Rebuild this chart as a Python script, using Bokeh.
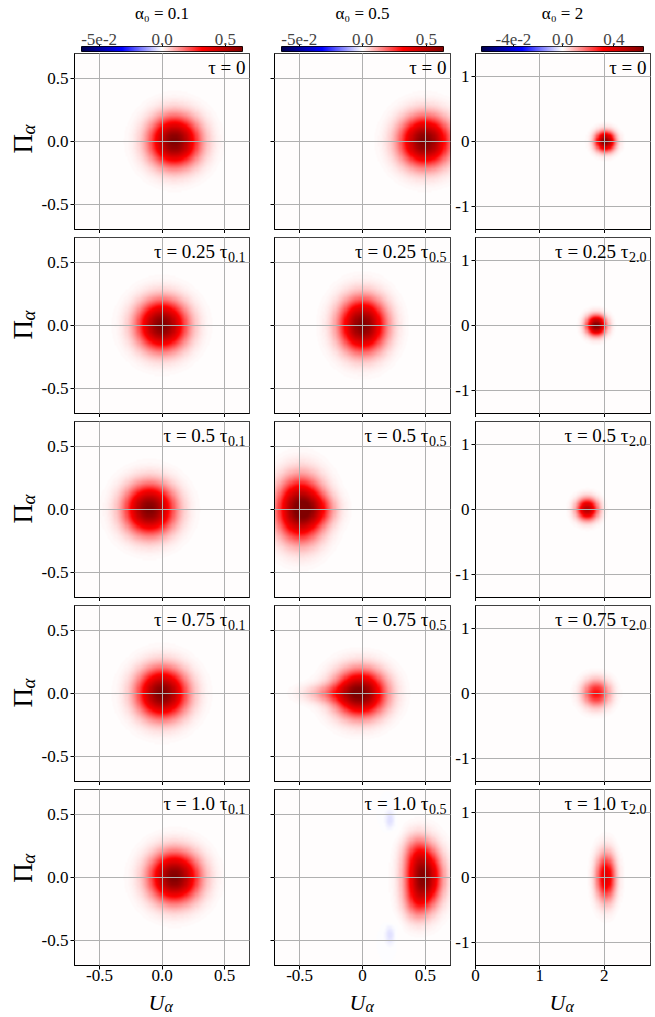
import numpy as np
from bokeh.plotting import figure
from bokeh.models import Range1d, LinearColorMapper, FixedTicker, CustomJSTickFormatter, Label
from bokeh.layouts import column, row
from bokeh.embed import file_html
from bokeh.resources import INLINE

# ---------------- data ----------------
col_titles = ["α₀ = 0.1", "α₀ = 0.5", "α₀ = 2"]
tau_main = ["τ = 0", "τ = 0.25 τ", "τ = 0.5 τ", "τ = 0.75 τ", "τ = 1.0 τ"]
tau_sub = ["0.1", "0.5", "2.0"]

norm_vmin = [-0.064, -0.064, -0.066]
norm_vmax = [0.634, 0.634, 0.630]
cbar_ticks = [[-0.05, 0.0, 0.5], [-0.05, 0.0, 0.5], [-0.04, 0.0, 0.4]]
cbar_labels = [["-5e-2", "0.0", "0.5"], ["-5e-2", "0.0", "0.5"], ["-4e-2", "0.0", "0.4"]]

x_ranges = [(-0.7, 0.7), (-0.7, 0.7), (0.0, 2.72)]
y_ranges = [(-0.7, 0.7), (-0.7, 0.7), (-1.36, 1.36)]
x_ticks = [[-0.5, 0.0, 0.5], [-0.5, 0.0, 0.5], [0.0, 1.0, 2.0]]
x_tick_labels = [["-0.5", "0.0", "0.5"], ["-0.5", "0", "0.5"], ["0", "1", "2"]]
y_ticks = [[-0.5, 0.0, 0.5], [-0.5, 0.0, 0.5], [-1.0, 0.0, 1.0]]
y_tick_labels = [["-0.5", "0.0", "0.5"], None, ["-1", "0", "1"]]

# Wigner-function blobs: panel row, panel column,
# centre (U, Pi), widths (U, Pi) and peak value
blob_row = [0, 1, 2, 3, 4,
            0, 1, 2, 2, 3, 3, 4, 4, 4, 4, 4, 4, 4,
            0, 1, 2, 3, 4]
blob_col = [0, 0, 0, 0, 0,
            1, 1, 1, 1, 1, 1, 1, 1, 1, 1, 1, 1, 1,
            2, 2, 2, 2, 2]
blob_u = [0.10, 0.00, -0.10, 0.00, 0.10,
          0.50, 0.00, -0.50, -0.36, -0.02, -0.25, 0.49, 0.43, 0.43, 0.22, 0.29, 0.22, 0.29,
          2.02, 1.88, 1.74, 1.88, 2.03]
blob_pi = [0.0, 0.0, 0.0, 0.0, 0.0,
           0.0, 0.0, 0.0, 0.0, 0.0, 0.0, 0.0, 0.20, -0.20, 0.46, 0.36, -0.46, -0.36,
           0.0, 0.0, 0.0, 0.0, 0.0]
blob_su = [0.13, 0.13, 0.13, 0.13, 0.13,
           0.13, 0.12, 0.12, 0.10, 0.13, 0.14, 0.09, 0.07, 0.07, 0.025, 0.025, 0.025, 0.025,
           0.10, 0.10, 0.11, 0.14, 0.10]
blob_spi = [0.13, 0.13, 0.13, 0.13, 0.13,
            0.13, 0.14, 0.16, 0.08, 0.12, 0.05, 0.15, 0.10, 0.10, 0.05, 0.05, 0.05, 0.05,
            0.10, 0.10, 0.11, 0.14, 0.24]
blob_amp = [0.63, 0.63, 0.63, 0.63, 0.63,
            0.63, 0.63, 0.63, 0.15, 0.63, 0.12, 0.60, 0.12, 0.12, -0.004, -0.004, -0.004, -0.004,
            0.63, 0.63, 0.50, 0.30, 0.40]

# ---------------- style / layout ----------------
FONT = "Liberation Serif"
LAB_W = 38                      # width of the y-label strip
col_w = [224, 190, 201]          # panel figure widths
col_bl = [35, 12, 22]
col_br = [13, 2, 3]
top_w = [LAB_W + 224, 190, 201]  # widths of title / colour-bar / x-label figures
cb_bl = [81, 19, 29]
cb_br = [20, 9, 10]
row_bt = [0, 4, 4, 4, 4]
row_bb = [4, 4, 4, 4, 24]
FRAME = 176
TITLE_H = 23
CB_H = 30
XLAB_H = 27
TICK_FS = "17px"


def seismic(n=256):
    pos = [0.0, 0.25, 0.5, 0.75, 1.0]
    r = [0.0, 0.0, 1.0, 1.0, 0.5]
    g = [0.0, 0.0, 1.0, 0.0, 0.0]
    b = [0.3, 1.0, 1.0, 0.0, 0.0]
    t = np.linspace(0, 1, n)
    R, G, B = (np.interp(t, pos, ch) for ch in (r, g, b))
    return ["#%02x%02x%02x" % (int(round(a * 255)), int(round(bb * 255)), int(round(c * 255)))
            for a, bb, c in zip(R, G, B)]


palette = seismic()
mapper = LinearColorMapper(palette=palette, low=0.0, high=1.0)


def norm(v, vmin, vmax):
    v = np.asarray(v, dtype=float)
    out = np.where(v < 0, 0.5 * (v - vmin) / (0 - vmin), 0.5 + 0.5 * v / vmax)
    return np.clip(out, 0, 1)


def label_formatter(labels):
    return CustomJSTickFormatter(args=dict(labels=labels), code="return labels[index];")


def style_axis(ax, ticks, labels, standoff):
    ax.ticker = FixedTicker(ticks=ticks, minor_ticks=[])
    ax.major_tick_out = 4
    ax.major_tick_in = 0
    ax.minor_tick_out = 0
    ax.minor_tick_in = 0
    ax.axis_line_color = "black"
    ax.major_tick_line_color = "black"
    ax.major_label_text_font = FONT
    ax.major_label_text_color = "black"
    if labels is None:
        ax.formatter = CustomJSTickFormatter(code="return '';")
        ax.major_label_text_font_size = "0px"
        ax.major_label_standoff = 0
    else:
        ax.formatter = label_formatter(labels)
        ax.major_label_text_font_size = TICK_FS
        ax.major_label_standoff = standoff


def text_fig(w, h):
    f = figure(width=w, height=h, x_range=Range1d(0, w), y_range=Range1d(0, h),
               x_axis_location=None, y_axis_location=None, toolbar_location=None,
               tools="", output_backend="svg", min_border=0)
    f.grid.visible = False
    f.outline_line_color = None
    return f


# ---------------- column titles ----------------
title_figs = []
for c in range(3):
    f = text_fig(top_w[c], TITLE_H)
    xc = cb_bl[c] + 0.5 * (top_w[c] - cb_bl[c] - cb_br[c])
    f.add_layout(Label(x=xc, y=9.6, text=col_titles[c], text_align="center",
                       text_baseline="alphabetic", text_font=FONT,
                       text_font_size="17px", text_color="black"))
    title_figs.append(f)

# ---------------- colour bars ----------------
cb_figs = []
for c in range(3):
    f = figure(width=top_w[c], height=CB_H, x_range=Range1d(0, 1), y_range=Range1d(0, 1),
               x_axis_location="above", y_axis_location=None, toolbar_location=None,
               tools="", output_backend="svg", min_border=0,
               min_border_left=cb_bl[c], min_border_right=cb_br[c],
               min_border_top=CB_H - 7, min_border_bottom=2)
    grad = np.linspace(0, 1, 256).reshape(1, 256)
    f.image(image=[grad], x=0, y=0, dw=1, dh=1, color_mapper=mapper)
    ax = f.xaxis[0]
    ax.ticker = FixedTicker(ticks=[float(norm(t, norm_vmin[c], norm_vmax[c])) for t in cbar_ticks[c]],
                            minor_ticks=[])
    ax.formatter = label_formatter(cbar_labels[c])
    ax.major_tick_out = 2
    ax.major_tick_in = 0
    ax.minor_tick_out = 0
    ax.axis_line_color = None
    ax.major_label_standoff = 0
    ax.major_label_text_font = FONT
    ax.major_label_text_font_size = TICK_FS
    f.grid.visible = False
    f.outline_line_color = "black"
    f.outline_line_width = 1
    cb_figs.append(f)

rows = [row(*title_figs, spacing=0), row(*cb_figs, spacing=0)]

# ---------------- panels ----------------
NPIX = 160
for r in range(5):
    h = row_bt[r] + FRAME + row_bb[r]
    # y-label strip
    lf = text_fig(LAB_W, h)
    yc = h - (row_bt[r] + FRAME / 2)
    lf.add_layout(Label(x=22.9, y=yc, text="Π", angle=np.pi / 2, text_align="left",
                        text_baseline="alphabetic", y_offset=-14,
                        text_font=FONT, text_font_size="27px", text_color="black"))
    lf.add_layout(Label(x=27.8, y=yc, text="α", angle=np.pi / 2, text_align="left",
                        text_baseline="alphabetic", y_offset=5,
                        text_font=FONT, text_font_size="19px", text_color="black",
                        text_font_style="italic"))
    figs = [lf]
    for c in range(3):
        x0, x1 = x_ranges[c]
        y0, y1 = y_ranges[c]
        p = figure(width=col_w[c], height=h, x_range=Range1d(x0, x1), y_range=Range1d(y0, y1),
                   toolbar_location=None, tools="", output_backend="svg", min_border=0,
                   min_border_left=col_bl[c], min_border_right=col_br[c],
                   min_border_top=row_bt[r], min_border_bottom=row_bb[r])
        xs = np.linspace(x0, x1, NPIX)
        ys = np.linspace(y0, y1, NPIX)
        X, Y = np.meshgrid(xs, ys)
        field = np.zeros_like(X)
        for k in range(len(blob_row)):
            if blob_row[k] == r and blob_col[k] == c:
                field += blob_amp[k] * np.exp(-((X - blob_u[k]) ** 2) / (2 * blob_su[k] ** 2)
                                              - ((Y - blob_pi[k]) ** 2) / (2 * blob_spi[k] ** 2))
        p.image(image=[norm(field, norm_vmin[c], norm_vmax[c])], x=x0, y=y0,
                dw=x1 - x0, dh=y1 - y0, color_mapper=mapper)

        style_axis(p.xaxis[0], x_ticks[c], x_tick_labels[c] if r == 4 else None, 0)
        style_axis(p.yaxis[0], y_ticks[c], y_tick_labels[c], 2)
        p.grid.grid_line_color = "#b0b0b0"
        p.grid.grid_line_width = 1
        p.grid.level = "annotation"
        p.outline_line_color = "black"
        p.outline_line_width = 1
        p.background_fill_color = "white"

        # tau label (top-right, inside the frame)
        if r == 0:
            p.add_layout(Label(x=x1, y=y1, text=tau_main[r], text_align="right",
                               text_baseline="alphabetic", x_offset=-4, y_offset=-14,
                               text_font=FONT, text_font_size="19px", text_color="black"))
        else:
            p.add_layout(Label(x=x1, y=y1, text=tau_main[r], text_align="right",
                               text_baseline="alphabetic", x_offset=-22, y_offset=-14,
                               text_font=FONT, text_font_size="19px", text_color="black"))
            p.add_layout(Label(x=x1, y=y1, text=tau_sub[c], text_align="right",
                               text_baseline="alphabetic", x_offset=-4, y_offset=-19,
                               text_font=FONT, text_font_size="14px", text_color="black"))
        figs.append(p)
    rows.append(row(*figs, spacing=0))

# ---------------- x-axis labels ----------------
xlab_figs = []
for c in range(3):
    f = text_fig(top_w[c], XLAB_H)
    xc = (top_w[c] - col_br[c]) - FRAME / 2
    f.add_layout(Label(x=xc, y=13.6, text="U", text_align="left", x_offset=-13,
                       text_baseline="alphabetic", text_font=FONT, text_font_size="22px",
                       text_color="black", text_font_style="italic"))
    f.add_layout(Label(x=xc, y=10.3, text="α", text_align="left", x_offset=3,
                       text_baseline="alphabetic", text_font=FONT, text_font_size="16px",
                       text_color="black", text_font_style="italic"))
    xlab_figs.append(f)
rows.append(row(*xlab_figs, spacing=0))

layout = column(*rows, spacing=0)
open("out.html", "w").write(file_html(layout, INLINE))
